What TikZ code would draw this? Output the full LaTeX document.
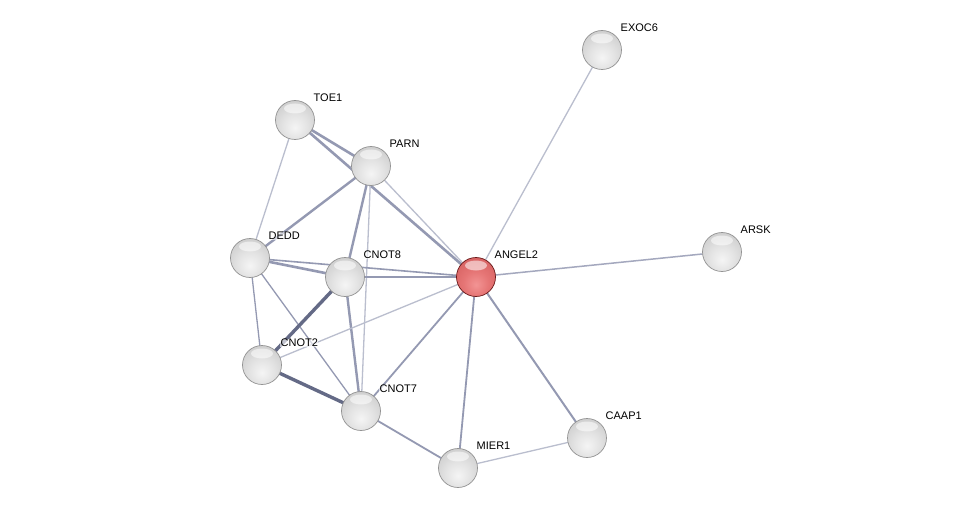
\documentclass[tikz,border=0pt]{standalone}
\usepackage{fontspec}
\setmainfont{Liberation Sans}
\usetikzlibrary{calc,backgrounds}
\definecolor{edgelight}{RGB}{186,190,206}
\definecolor{edgemid}{RGB}{148,153,178}
\definecolor{edgedark}{RGB}{100,106,134}
\pgfdeclareradialshading{glassgray}{\pgfpoint{0bp}{-10bp}}{%
  rgb(0bp)=(0.96,0.96,0.96);
  rgb(16bp)=(0.89,0.89,0.89);
  rgb(34bp)=(0.80,0.80,0.80);
  rgb(48bp)=(0.64,0.64,0.64);
  rgb(58bp)=(0.45,0.45,0.45);
  rgb(100bp)=(0.45,0.45,0.45)}
\pgfdeclareradialshading{glassred}{\pgfpoint{0bp}{-10bp}}{%
  rgb(0bp)=(0.95,0.58,0.58);
  rgb(16bp)=(0.90,0.46,0.46);
  rgb(34bp)=(0.84,0.38,0.38);
  rgb(48bp)=(0.70,0.25,0.25);
  rgb(58bp)=(0.50,0.13,0.13);
  rgb(100bp)=(0.50,0.13,0.13)}
\tikzset{
  prot/.style={circle, minimum size=39pt, inner sep=0pt, shading=glassgray, draw=gray!85, line width=0.7pt,
    path picture={\fill[white, opacity=0.55] ([yshift=-8pt]path picture bounding box.north) ellipse [x radius=11pt, y radius=5pt];}},
  query/.style={prot, shading=glassred, draw=red!35!black!90},
  lab/.style={anchor=west, inner sep=0.5pt, font=\fontsize{11}{13}\selectfont, fill=white, fill opacity=0.6, text opacity=1},
  ethin/.style={draw=edgelight, line width=1.3pt},
  emid/.style={draw=edgemid, line width=2pt},
  ethick/.style={draw=edgedark, line width=3.4pt},
}
\begin{document}
\begin{tikzpicture}[x=1pt,y=-1pt]
\useasboundingbox (0,0) rectangle (976,513);
\node[prot] (EXOC6) at (602,50) {};
\node[prot] (TOE1) at (295,120) {};
\node[prot] (PARN) at (371,166) {};
\node[prot] (DEDD) at (250,258) {};
\node[prot] (CNOT8) at (345,277) {};
\node[query] (ANGEL2) at (476,277) {};
\node[prot] (ARSK) at (722,252) {};
\node[prot] (CNOT2) at (262,365) {};
\node[prot] (CNOT7) at (361,411) {};
\node[prot] (CAAP1) at (587,438) {};
\node[prot] (MIER1) at (458,468) {};
\foreach \n in {EXOC6,TOE1,PARN,DEDD,CNOT8,ANGEL2,ARSK,CNOT2,CNOT7,CAAP1,MIER1}
  \node[lab] (\n-lab) at ($(\n)+(18,-22)$) {\n};
\begin{scope}[on background layer]
\fill[white] (0,0) rectangle (976,513);
\draw[ethin] (EXOC6.center) -- (ANGEL2.center);
\draw[ethin, draw=edgemid!85, line width=1.5pt] (ARSK.center) -- (ANGEL2.center);
\draw[emid, line width=2.6pt] (TOE1.center) -- (PARN.center);
\draw[emid, line width=2.6pt] (TOE1.center) -- (ANGEL2.center);
\draw[ethin] (TOE1.center) -- (DEDD.center);
\draw[ethin] (PARN.center) -- (ANGEL2.center);
\draw[emid, line width=2.4pt] (PARN.center) -- (DEDD.center);
\draw[emid, line width=2.4pt] (PARN.center) -- (CNOT8.center);
\draw[ethin] (PARN.center) -- (CNOT7.center);
\draw[emid, line width=2.6pt] (DEDD.center) -- (CNOT8.center);
\draw[emid, line width=1.6pt] (DEDD.center) -- (ANGEL2.center);
\draw[ethin, draw=edgemid] (DEDD.center) -- (CNOT2.center);
\draw[ethin, draw=edgemid] (DEDD.center) -- (CNOT7.center);
\draw[emid, line width=2.4pt] (CNOT8.center) -- (ANGEL2.center);
\draw[ethick] (CNOT8.center) -- (CNOT2.center);
\draw[emid, line width=2.4pt] (CNOT8.center) -- (CNOT7.center);
\draw[ethick] (CNOT2.center) -- (CNOT7.center);
\draw[ethin] (CNOT2.center) -- (ANGEL2.center);
\draw[emid, line width=1.8pt] (CNOT7.center) -- (ANGEL2.center);
\draw[emid, line width=1.8pt] (CNOT7.center) -- (MIER1.center);
\draw[emid, line width=1.8pt] (MIER1.center) -- (ANGEL2.center);
\draw[ethin] (MIER1.center) -- (CAAP1.center);
\draw[emid, line width=2pt] (CAAP1.center) -- (ANGEL2.center);
\end{scope}
\end{tikzpicture}
\end{document}
